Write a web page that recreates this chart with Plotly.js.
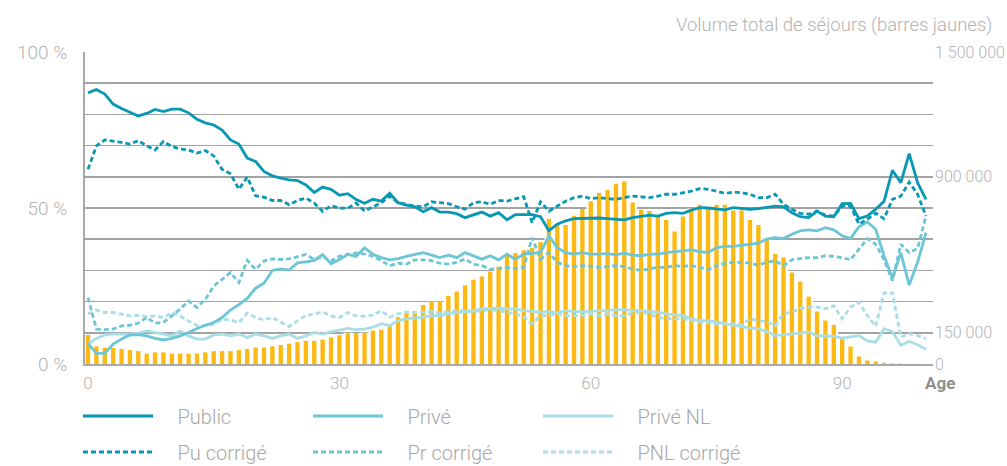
<!DOCTYPE html>
<html>
<head>
<meta charset="utf-8">
<script src="https://cdn.plot.ly/plotly-3.0.1.min.js"></script>
<style>
html,body{margin:0;padding:0;background:#fff;}
#chart{width:1007px;height:466px;}
</style>
</head>
<body>
<div id="chart"></div>
<script>
// Age categories
var ages = [0,1,2,3,4,5,6,7,8,9,10,11,12,13,14,15,16,17,18,19,20,21,22,23,24,25,26,27,28,29,30,31,32,33,34,35,36,37,38,39,40,41,42,43,44,45,46,47,48,49,50,51,52,53,54,55,56,57,58,59,60,61,62,63,64,65,66,67,68,69,70,71,72,73,74,75,76,77,78,79,80,81,82,83,84,85,86,87,88,89,90,91,92,93,94,95,96,97,98,99,100];

// Volume total de séjours (barres jaunes)
var volume = [139000,85000,77000,77000,72000,67000,62000,50000,56000,56000,50000,50000,50000,50000,56000,62000,62000,62000,67000,72000,79000,79000,85000,91000,98000,106000,111000,111000,117000,128000,138000,150000,149000,150000,161000,165000,188000,225000,245000,253000,284000,299000,299000,327000,348000,378000,405000,421000,444000,468000,529000,533000,547000,557000,586000,698000,668000,668000,713000,745000,782000,822000,837000,866000,877000,776000,741000,736000,714000,692000,637000,709000,747000,766000,754000,766000,766000,738000,738000,692000,668000,604000,529000,513000,440000,396000,324000,252000,209000,188000,124000,84000,36000,17000,12000,6000,3000,2000,1000,500,200];

// Parts (%)
var publicP = [86.9,88,86.5,83.3,81.9,80.6,79.5,80.3,81.6,80.9,81.7,81.7,80.5,78.4,77.3,76.6,75,71.8,70.5,66,64.9,61.7,60.3,59.6,59,58.8,57.4,55,56.7,56,54.1,54.6,52.7,51.5,52.8,52.2,54.7,51.7,50.9,50.4,48.8,50.1,48.7,48.7,48.2,46.9,47.7,48.7,47.4,48.5,46.2,47.9,47.9,47.9,47.2,42.7,44.8,45.9,46.6,46.7,46.7,46.8,46.6,46.4,46.2,46.9,47.3,47.7,47.4,48.3,48.5,48.3,49.3,50.1,50,49.6,49.4,50.1,49.8,49.6,49.8,50.1,50.6,50.4,48.5,47.2,46.9,49,47.4,47.2,51.4,51.5,46.6,47.4,49.6,52.2,62.1,58.1,67.4,58.1,52.8];
var puCorr = [62.4,69.9,71.8,71.5,71,70.5,71.6,69.9,68.6,71.3,69.7,68.9,68.6,67.6,68.4,66.7,62.4,61,56,59.9,53.9,53.5,52.4,52.4,51.1,52.4,53.2,51.6,48.9,50.7,50,49.9,51.6,49,50.4,51.7,53.8,51.7,51.2,50.6,50.4,52,51.7,51.4,50.4,49.6,51.7,52,51.2,52.4,52.2,52.8,53.6,45.3,52,49,50.6,52.2,53.3,53.8,53,53.3,53,52.8,53.3,53.8,53.6,53.3,53.8,54.4,54.4,54.9,55.4,56.2,56,55.4,54.7,55.1,54.9,54.4,53.3,53.3,54.4,51.2,49.6,48.3,48,49,47.7,47.4,50.6,50.6,44.8,46.4,48.3,46.6,52.8,53.8,58.3,54.4,47.4];
var prive = [6.6,3.4,3.4,6.4,8,9.3,9.4,9,8.2,7.7,8.2,9,10.1,11.4,12.4,13.3,14.9,17.3,19,21,24.3,25.9,30,30.5,30.1,32.4,32.7,33.2,35.1,32.1,33.5,35.1,34.5,37.2,35.2,34.1,33.4,33.8,34.5,35.2,35.7,34.9,34.1,34.9,34.1,35.7,34.7,33.6,34.7,33.4,35.2,33.6,35.2,35.5,35.7,41.1,37.3,35.7,35.2,35.7,35.2,35.2,35.4,35,35.5,34.9,34.7,35.2,35.2,35.7,36,36.3,36.6,36,35.7,37.3,37.7,37.7,38.1,38.4,38.7,40,40.5,40.2,41.6,42.7,43,42.7,43.7,43,41.1,40.2,44,45.5,43.2,34.7,27.4,35.7,25.3,32.6,42.1];
var prCorr = [21.3,11.2,11,11.2,12.2,12.4,13.1,14.9,13.1,13.3,15.4,17.6,20.2,18.1,20.7,25,27.1,29.3,26.1,33.2,30.3,33,33.7,33.5,33.7,34.3,35.1,33.5,34.4,33,34.6,35.1,35.6,35.2,34.5,33.1,31.5,32.3,32,33.4,33.4,33.1,32.3,32,32.6,33.6,32,31.5,30.4,30.6,31,30.6,31,40.5,33.6,35.7,32.6,31.5,31.2,31.5,31.2,31,31.2,31.5,31.2,30.4,30,30.4,31,31,31.5,31.3,31.5,31,30.2,31.5,32.3,32.6,32.6,32.3,31.7,32.6,33.1,31.5,33.4,33.8,34.1,34.1,34.7,34.5,34.1,33.4,36.8,40.2,38.4,33.4,26.7,38.4,35.7,37,47.4];
var priveNL = [6.4,8.2,9.3,9.6,9.6,9.6,9.9,10.6,10.1,9.6,9,10.6,9,8,8,9.3,9.6,9,9.6,8.5,9.6,9,8.2,9,9.6,8.2,9,10.1,9.6,10.3,10.9,11.4,11,11.2,11.8,12.9,12.3,13.9,14.5,14.7,15,15.5,15.5,16.1,16.4,16.8,17.1,17.7,17.9,17.9,17.7,17.7,17.1,16.8,16.6,16.8,16.4,17.1,16.8,16.8,16.8,17.1,17.1,17.4,17.4,17.1,17.2,16.8,16.6,16.1,15.7,15.5,14.5,13.9,13.9,13.4,12.9,12.3,11.8,11.5,11.3,10.4,9.1,9.4,9.7,10,10.2,9.1,8.9,8.9,8.3,8.6,9.1,7.4,7,11.3,10.4,6,7.2,6.2,4.7];
var pnlCorr = [16,17.3,16.5,16.5,16,15.4,15.6,15.2,15.4,14.9,16.5,15.4,13.8,12.4,12.2,12.8,14.4,14.1,13.3,16.3,14.9,14.1,14.9,13.5,12,13.8,15.6,16,16.7,15.4,14.9,16.5,15.4,15.3,15.7,17.1,15,16.1,16.6,16.4,16.6,16.8,16.4,16.8,17.1,17.1,16.8,17.1,17.4,17.1,16.6,16.1,15,12.9,15.5,15.5,16.1,15.5,15.5,15.5,16.1,15.5,16.1,15.5,15.5,16.4,16.6,16.1,15,14.5,14.5,14.5,13.9,13.6,13.4,12.9,12.6,12.9,12.6,14.5,13.9,13.6,12.3,16.1,16.6,17.9,18.2,18.2,17.7,18.7,14.5,18.2,19.8,15.5,12.1,22.8,22.8,8.6,9.7,9.1,8.1];

// Tick labels
var xTicks = [0,30,60,90];
var pctTickVals = [0,50,100];
var pctTickText = ['0 %','50 %','100 %'];
var volTickVals = [0,150000,900000,1500000];
var volTickText = ['0','150 000','900 000','1 500 000'];

var C_PUB = '#0898b4', C_PRI = '#6cc6d6', C_PNL = '#aadee7';
var GRAY = '#a9a9a9', GRID = '#a3a3a3';
var FONT = 'Roboto, "Open Sans", sans-serif';
var PAD = '\u00a0\u00a0\u00a0\u00a0';

function line(name, y, color, dashed, legend) {
  return {
    type: 'scatter', mode: 'lines', name: PAD + name, x: ages, y: y, yaxis: 'y2',
    line: {color: color, width: 2.8, dash: dashed ? '5px,3px' : 'solid'},
    legend: legend, hoverinfo: 'skip'
  };
}

var traces = [
  // white full-width bars: mask the gridlines under the bar envelope
  {type: 'bar', x: ages, y: volume, width: 1.02, marker: {color: '#ffffff', line: {width: 0}},
   showlegend: false, hoverinfo: 'skip'},
  {type: 'bar', x: ages, y: volume, width: 0.52, marker: {color: '#fdb913', line: {width: 0}},
   showlegend: false, hoverinfo: 'skip'},
  line('PNL corrigé', pnlCorr, C_PNL, true, 'legend2'),
  line('Privé NL', priveNL, C_PNL, false, 'legend'),
  line('Pr corrigé', prCorr, C_PRI, true, 'legend2'),
  line('Privé', prive, C_PRI, false, 'legend'),
  line('Pu corrigé', puCorr, C_PUB, true, 'legend2'),
  line('Public', publicP, C_PUB, false, 'legend')
];

var legendFont = {family: FONT, size: 20, color: '#a8a8a8', weight: 300};
var layout = {
  width: 1007, height: 466,
  margin: {l: 85, r: 74, t: 52, b: 102},
  paper_bgcolor: '#ffffff', plot_bgcolor: '#ffffff',
  showlegend: true,
  barmode: 'overlay',
  xaxis: {
    range: [-0.36, 100.84], tickvals: xTicks, ticktext: xTicks.map(String),
    showgrid: false, zeroline: false, showline: true, linecolor: GRAY, linewidth: 2,
    ticks: 'outside', ticklen: 3, tickcolor: 'rgba(0,0,0,0)',
    tickfont: {family: FONT, size: 17, color: '#b3b3b3', weight: 300}
  },
  yaxis: {
    side: 'right', range: [0, 1500000], tickvals: volTickVals, ticktext: volTickText,
    showgrid: true, gridcolor: GRID, gridwidth: 1.5, zeroline: false, showline: false,
    ticks: '', ticklabelstandoff: 1,
    minor: {dtick: 150000, tick0: 0, showgrid: true, gridcolor: GRID, gridwidth: 1.5},
    tickfont: {family: FONT, size: 16, color: '#b3b3b3', weight: 300}
  },
  yaxis2: {
    overlaying: 'y', side: 'left', range: [0, 100], tickvals: pctTickVals, ticktext: pctTickText,
    showgrid: false, zeroline: false, showline: true, linecolor: GRAY, linewidth: 2,
    ticks: 'outside', ticklen: 12, tickcolor: 'rgba(0,0,0,0)',
    tickfont: {family: FONT, size: 19, color: '#b3b3b3', weight: 300}
  },
  legend: {
    orientation: 'h', xref: 'container', yref: 'container', x: 78/1007, y: 1 - 416/466,
    xanchor: 'left', yanchor: 'middle', entrywidth: 145, itemwidth: 70,
    traceorder: 'reversed', font: legendFont, bgcolor: 'rgba(0,0,0,0)'
  },
  legend2: {
    orientation: 'h', xref: 'container', yref: 'container', x: 78/1007, y: 1 - 452/466,
    xanchor: 'left', yanchor: 'middle', entrywidth: 145, itemwidth: 70,
    traceorder: 'reversed', font: legendFont, bgcolor: 'rgba(0,0,0,0)'
  },
  annotations: [
    {text: 'Volume total de séjours (barres jaunes)', xref: 'paper', yref: 'paper',
     x: (994 - 85) / 848, y: (364 - 25) / 312, xanchor: 'right', yanchor: 'middle',
     showarrow: false, font: {family: FONT, size: 18.5, color: '#b3b3b3', weight: 300}},
    {text: '<b>Age</b>', xref: 'paper', yref: 'paper',
     x: (940 - 85) / 848, y: (364 - 383) / 312, xanchor: 'center', yanchor: 'middle',
     showarrow: false, font: {family: FONT, size: 17, color: '#8f8f8f'}}
  ]
};

Plotly.newPlot('chart', traces, layout, {displayModeBar: false, staticPlot: true});
</script>
</body>
</html>
